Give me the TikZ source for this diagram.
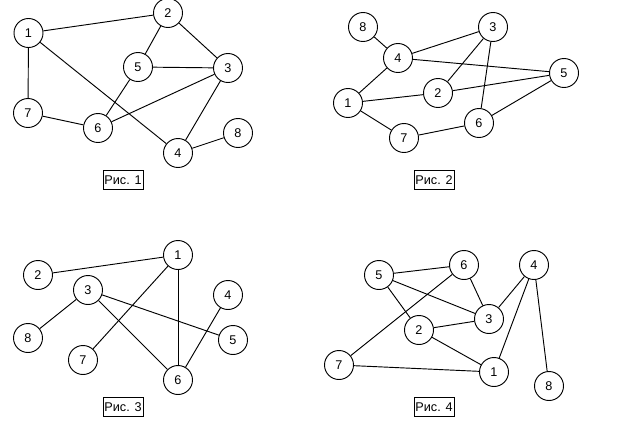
\documentclass[tikz,border=0pt]{standalone}
\usepackage{fontspec}
\setmainfont{Liberation Sans}
\tikzset{
  vert/.style={draw,circle,minimum size=21.75pt,inner sep=0pt,line width=0.7pt,font=\fontsize{9.5}{11}\selectfont},
  caption/.style={draw,rectangle,minimum width=30pt,minimum height=14.25pt,inner sep=1pt,line width=0.7pt,font=\fontsize{9.5}{11}\selectfont},
}
\begin{document}
\begin{tikzpicture}[x=0.75pt,y=-0.75pt,line width=0.7pt]
\useasboundingbox (0,0) rectangle (624,433);

% Рис. 1
\node[vert] (a1) at (28.5,33) {1};
\node[vert] (a2) at (168,13) {2};
\node[vert] (a3) at (228,68) {3};
\node[vert] (a4) at (178,153) {4};
\node[vert] (a5) at (138,67) {5};
\node[vert] (a6) at (98,128) {6};
\node[vert] (a7) at (28,113) {7};
\node[vert] (a8) at (238,133) {8};
\draw (a1) -- (a2);
\draw (a1) -- (a7);
\draw (a1) -- (a4);
\draw (a2) -- (a5);
\draw (a2) -- (a3);
\draw (a5) -- (a3);
\draw (a5) -- (a6);
\draw (a3) -- (a6);
\draw (a3) -- (a4);
\draw (a7) -- (a6);
\draw (a4) -- (a8);
\node[caption] (capa) at (123,180) {Рис. 1};

% Рис. 2
\node[vert] (b1) at (348,103) {1};
\node[vert] (b2) at (438,93) {2};
\node[vert] (b3) at (493,27) {3};
\node[vert] (b4) at (398,58) {4};
\node[vert] (b5) at (564,73) {5};
\node[vert] (b6) at (479,123) {6};
\node[vert] (b7) at (404,138) {7};
\node[vert] (b8) at (363,27) {8};
\draw (b8) -- (b4);
\draw (b4) -- (b3);
\draw (b4) -- (b5);
\draw (b4) -- (b1);
\draw (b3) -- (b2);
\draw (b3) -- (b6);
\draw (b1) -- (b2);
\draw (b2) -- (b5);
\draw (b1) -- (b7);
\draw (b7) -- (b6);
\draw (b6) -- (b5);
\node[caption] (capb) at (434,180) {Рис. 2};

% Рис. 3
\node[vert] (c1) at (178,255) {1};
\node[vert] (c2) at (38,275) {2};
\node[vert] (c3) at (88,290) {3};
\node[vert] (c4) at (228,295) {4};
\node[vert] (c5) at (233,340) {5};
\node[vert] (c6) at (178,380) {6};
\node[vert] (c7) at (83,360) {7};
\node[vert] (c8) at (28,338) {8};
\draw (c2) -- (c1);
\draw (c1) -- (c7);
\draw (c1) -- (c6);
\draw (c3) -- (c8);
\draw (c3) -- (c5);
\draw (c3) -- (c6);
\draw (c4) -- (c6);
\node[caption] (capc) at (123,407) {Рис. 3};

% Рис. 4
\node[vert] (d1) at (494,372) {1};
\node[vert] (d2) at (419,330) {2};
\node[vert] (d3) at (489,319) {3};
\node[vert] (d4) at (534,265) {4};
\node[vert] (d5) at (379,275) {5};
\node[vert] (d6) at (464,265) {6};
\node[vert] (d7) at (339,365) {7};
\node[vert] (d8) at (549,386) {8};
\draw (d5) -- (d6);
\draw (d5) -- (d3);
\draw (d5) -- (d2);
\draw (d6) -- (d3);
\draw (d6) -- (d7);
\draw (d3) -- (d4);
\draw (d3) -- (d2);
\draw (d4) -- (d1);
\draw (d4) -- (d8);
\draw (d2) -- (d1);
\draw (d7) -- (d1);
\node[caption] (capd) at (434,407) {Рис. 4};
\end{tikzpicture}
\end{document}
